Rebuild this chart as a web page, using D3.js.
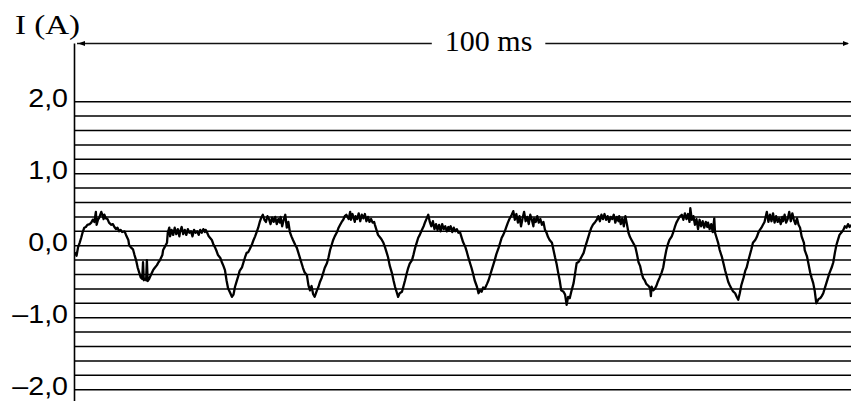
<!DOCTYPE html>
<html>
<head>
<meta charset="utf-8">
<script src="https://cdn.jsdelivr.net/npm/d3@7"></script>
<style>
  body { margin: 0; background: #fff; }
  svg { display: block; }
</style>
</head>
<body>
<svg id="chart"></svg>
<script>
const width = 851;
const height = 401;

// gridlines every 0,2 A
const gridValues = [-2.0, -1.8, -1.6, -1.4, -1.2, -1.0, -0.8, -0.6, -0.4, -0.2, 0.0,
                    0.2, 0.4, 0.6, 0.8, 1.0, 1.2, 1.4, 1.6, 1.8, 2.0];
const tickValues = [2, 1, 0, -1, -2];
const tickLabels = ["2,0", "1,0", "0,0", "–1,0", "–2,0"];
const yLabel = "I (A)";
const spanLabel = "100 ms";
const spanMs = 100;
const spanLabelAt = 53.5; // ms, where the label sits on the marker

// current trace: [time (ms), current (A)]
const trace = [
  [0.0, -0.09], [0.2, -0.14], [0.4, -0.02], [0.6, 0.04], [0.8, 0.11], [1.0, 0.19], [1.2, 0.25],
  [1.4, 0.26], [1.6, 0.29], [1.9, 0.30], [2.1, 0.32], [2.3, 0.36], [2.5, 0.33], [2.7, 0.47],
  [2.8, 0.29], [3.0, 0.37], [3.1, 0.38], [3.4, 0.47], [3.5, 0.44], [3.7, 0.37], [3.8, 0.43],
  [4.0, 0.38], [4.2, 0.37], [4.4, 0.32], [4.7, 0.29], [4.9, 0.30], [5.1, 0.26], [5.3, 0.23],
  [5.5, 0.25], [5.7, 0.20], [5.9, 0.22], [6.1, 0.19], [6.4, 0.20], [6.6, 0.15], [6.9, 0.08],
  [7.0, 0.01], [7.2, -0.02], [7.5, -0.05], [7.7, -0.13], [7.9, -0.20], [8.1, -0.30], [8.3, -0.37],
  [8.5, -0.44], [8.7, -0.46], [8.8, -0.23], [8.9, -0.48], [9.1, -0.46], [9.2, -0.48], [9.3, -0.20],
  [9.4, -0.49], [9.6, -0.46], [9.8, -0.41], [10.1, -0.34], [10.3, -0.31], [10.6, -0.27], [10.8, -0.23],
  [11.0, -0.20], [11.3, -0.13], [11.4, -0.06], [11.6, -0.02], [11.9, 0.04], [12.0, 0.18], [12.2, 0.25],
  [12.3, 0.13], [12.5, 0.22], [12.7, 0.15], [12.9, 0.25], [13.1, 0.16], [13.3, 0.23], [13.5, 0.13],
  [13.6, 0.20], [13.8, 0.26], [14.0, 0.16], [14.2, 0.22], [14.4, 0.15], [14.6, 0.23], [14.8, 0.18],
  [15.0, 0.20], [15.2, 0.13], [15.4, 0.22], [15.6, 0.18], [15.8, 0.20], [16.0, 0.15], [16.2, 0.22],
  [16.4, 0.18], [16.6, 0.23], [16.8, 0.19], [16.9, 0.22], [17.1, 0.18], [17.3, 0.13], [17.7, 0.08],
  [17.9, 0.02], [18.1, -0.02], [18.3, -0.07], [18.5, -0.13], [18.8, -0.17], [19.0, -0.23], [19.2, -0.28],
  [19.4, -0.34], [19.6, -0.48], [19.8, -0.59], [20.1, -0.66], [20.3, -0.71], [20.5, -0.68], [20.7, -0.57],
  [20.9, -0.50], [21.1, -0.43], [21.3, -0.35], [21.6, -0.30], [21.8, -0.23], [22.0, -0.16], [22.2, -0.10],
  [22.4, -0.09], [22.6, -0.05], [22.9, 0.02], [23.1, 0.08], [23.3, 0.13], [23.5, 0.19], [23.7, 0.25],
  [23.9, 0.33], [24.1, 0.39], [24.3, 0.43], [24.5, 0.36], [24.7, 0.33], [24.9, 0.41], [25.1, 0.37],
  [25.3, 0.30], [25.5, 0.39], [25.7, 0.33], [25.9, 0.40], [26.1, 0.30], [26.3, 0.37], [26.5, 0.32],
  [26.6, 0.40], [26.8, 0.27], [27.0, 0.36], [27.2, 0.43], [27.4, 0.25], [27.6, 0.33], [27.8, 0.19],
  [28.0, 0.13], [28.2, 0.08], [28.5, 0.01], [28.7, -0.03], [28.9, -0.10], [29.1, -0.17], [29.3, -0.24],
  [29.5, -0.31], [29.7, -0.37], [30.0, -0.41], [30.2, -0.55], [30.4, -0.62], [30.6, -0.56], [30.8, -0.67],
  [31.0, -0.71], [31.3, -0.62], [31.5, -0.57], [31.7, -0.50], [31.9, -0.45], [32.1, -0.38], [32.3, -0.31],
  [32.6, -0.24], [32.8, -0.16], [33.0, -0.06], [33.2, 0.01], [33.4, 0.08], [33.6, 0.13], [33.9, 0.19],
  [34.1, 0.25], [34.3, 0.29], [34.5, 0.33], [34.7, 0.36], [34.9, 0.41], [35.1, 0.43], [35.4, 0.37],
  [35.6, 0.47], [35.7, 0.36], [35.9, 0.44], [36.2, 0.33], [36.3, 0.41], [36.5, 0.37], [36.7, 0.45],
  [36.9, 0.34], [37.1, 0.43], [37.3, 0.38], [37.5, 0.44], [37.7, 0.34], [37.9, 0.40], [38.1, 0.33],
  [38.3, 0.37], [38.5, 0.32], [38.7, 0.33], [38.8, 0.29], [39.0, 0.22], [39.2, 0.15], [39.5, 0.11],
  [39.7, 0.08], [39.9, 0.04], [40.1, -0.02], [40.3, -0.09], [40.5, -0.16], [40.7, -0.27], [41.0, -0.38],
  [41.2, -0.48], [41.4, -0.57], [41.6, -0.64], [41.8, -0.71], [42.0, -0.66], [42.3, -0.64], [42.5, -0.56],
  [42.7, -0.48], [42.9, -0.39], [43.1, -0.31], [43.3, -0.25], [43.6, -0.20], [43.8, -0.12], [44.0, -0.03],
  [44.2, 0.04], [44.4, 0.11], [44.6, 0.15], [44.8, 0.20], [45.1, 0.27], [45.3, 0.33], [45.5, 0.38],
  [45.7, 0.43], [45.9, 0.33], [46.1, 0.27], [46.3, 0.34], [46.5, 0.23], [46.7, 0.30], [46.9, 0.22],
  [47.1, 0.29], [47.3, 0.20], [47.5, 0.30], [47.7, 0.23], [47.9, 0.27], [48.1, 0.20], [48.3, 0.26],
  [48.4, 0.22], [48.6, 0.27], [48.8, 0.19], [49.0, 0.25], [49.2, 0.20], [49.4, 0.23], [49.6, 0.18],
  [49.8, 0.19], [50.0, 0.12], [50.2, 0.05], [50.5, -0.02], [50.7, -0.09], [50.9, -0.17], [51.1, -0.24],
  [51.3, -0.31], [51.5, -0.39], [51.7, -0.48], [52.0, -0.57], [52.2, -0.66], [52.4, -0.62], [52.6, -0.64],
  [52.8, -0.58], [53.0, -0.60], [53.3, -0.53], [53.5, -0.48], [53.7, -0.41], [53.9, -0.34], [54.1, -0.27],
  [54.3, -0.20], [54.5, -0.12], [54.8, -0.03], [55.0, 0.04], [55.2, 0.11], [55.4, 0.15], [55.6, 0.20],
  [55.8, 0.26], [56.0, 0.32], [56.2, 0.37], [56.5, 0.43], [56.7, 0.48], [56.9, 0.36], [57.1, 0.44],
  [57.3, 0.32], [57.5, 0.41], [57.7, 0.27], [57.9, 0.38], [58.1, 0.47], [58.3, 0.34], [58.5, 0.40],
  [58.7, 0.30], [58.9, 0.43], [59.1, 0.36], [59.3, 0.27], [59.4, 0.38], [59.6, 0.33], [59.8, 0.41],
  [60.0, 0.32], [60.2, 0.37], [60.4, 0.29], [60.6, 0.33], [60.8, 0.22], [61.0, 0.18], [61.2, 0.12],
  [61.4, 0.08], [61.7, 0.04], [61.9, -0.06], [62.1, -0.16], [62.3, -0.25], [62.5, -0.37], [62.7, -0.48],
  [62.9, -0.62], [63.2, -0.64], [63.4, -0.68], [63.6, -0.82], [63.8, -0.71], [64.0, -0.73], [64.2, -0.64],
  [64.5, -0.52], [64.7, -0.38], [64.9, -0.24], [65.1, -0.23], [65.3, -0.20], [65.5, -0.16], [65.8, -0.10],
  [66.0, -0.02], [66.2, 0.05], [66.4, 0.12], [66.6, 0.19], [66.8, 0.25], [67.0, 0.29], [67.3, 0.33],
  [67.5, 0.36], [67.7, 0.41], [67.9, 0.34], [68.1, 0.43], [68.3, 0.37], [68.5, 0.44], [68.7, 0.36],
  [68.9, 0.41], [69.1, 0.33], [69.3, 0.40], [69.5, 0.37], [69.7, 0.43], [69.9, 0.32], [70.1, 0.40],
  [70.3, 0.34], [70.4, 0.41], [70.6, 0.30], [70.8, 0.38], [71.0, 0.27], [71.2, 0.41], [71.4, 0.30],
  [71.6, 0.18], [71.8, 0.12], [72.0, 0.08], [72.2, 0.04], [72.5, -0.02], [72.7, -0.12], [72.9, -0.23],
  [73.1, -0.28], [73.3, -0.38], [73.5, -0.45], [73.7, -0.48], [73.9, -0.53], [74.2, -0.56], [74.4, -0.59],
  [74.5, -0.70], [74.6, -0.57], [74.8, -0.62], [75.0, -0.60], [75.2, -0.56], [75.4, -0.50], [75.6, -0.45],
  [75.9, -0.37], [76.1, -0.30], [76.3, -0.17], [76.5, -0.06], [76.7, 0.02], [76.9, 0.08], [77.2, 0.13],
  [77.4, 0.19], [77.6, 0.26], [77.8, 0.32], [78.0, 0.36], [78.2, 0.40], [78.5, 0.43], [78.7, 0.36],
  [78.9, 0.45], [79.1, 0.37], [79.3, 0.44], [79.5, 0.33], [79.6, 0.52], [79.8, 0.36], [80.0, 0.41],
  [80.2, 0.29], [80.4, 0.37], [80.6, 0.23], [80.8, 0.36], [81.0, 0.27], [81.2, 0.34], [81.4, 0.25],
  [81.6, 0.33], [81.8, 0.26], [81.9, 0.32], [82.1, 0.23], [82.3, 0.30], [82.5, 0.19], [82.7, 0.38],
  [82.8, 0.18], [83.0, 0.11], [83.2, 0.04], [83.4, -0.06], [83.7, -0.16], [83.9, -0.25], [84.1, -0.34],
  [84.3, -0.42], [84.5, -0.50], [84.7, -0.55], [84.9, -0.59], [85.1, -0.63], [85.4, -0.66], [85.6, -0.71],
  [85.8, -0.75], [86.0, -0.66], [86.2, -0.55], [86.5, -0.44], [86.7, -0.35], [86.9, -0.30], [87.1, -0.21],
  [87.3, -0.13], [87.5, -0.05], [87.7, 0.04], [88.0, 0.08], [88.2, 0.12], [88.4, 0.18], [88.6, 0.22],
  [88.8, 0.25], [89.0, 0.29], [89.2, 0.33], [89.5, 0.47], [89.7, 0.33], [89.9, 0.43], [90.1, 0.34],
  [90.3, 0.45], [90.5, 0.32], [90.7, 0.41], [90.9, 0.33], [91.1, 0.38], [91.3, 0.30], [91.5, 0.40],
  [91.6, 0.34], [91.8, 0.43], [92.0, 0.32], [92.2, 0.37], [92.4, 0.47], [92.6, 0.34], [92.8, 0.45],
  [93.0, 0.36], [93.2, 0.30], [93.4, 0.38], [93.6, 0.29], [93.8, 0.25], [94.0, 0.13], [94.3, 0.04],
  [94.4, -0.06], [94.7, -0.15], [95.1, -0.37], [95.3, -0.45], [95.5, -0.52], [95.7, -0.63], [95.9, -0.80],
  [96.2, -0.74], [96.4, -0.73], [96.6, -0.70], [96.8, -0.66], [97.0, -0.59], [97.2, -0.52], [97.4, -0.45],
  [97.6, -0.38], [97.9, -0.30], [98.1, -0.23], [98.3, -0.10], [98.5, 0.01], [98.7, 0.08], [98.9, 0.15],
  [99.2, 0.19], [99.4, 0.22], [99.6, 0.27], [99.8, 0.25], [100.0, 0.30], [100.2, 0.26], [100.4, 0.29]
];

const svg = d3.select("#chart")
    .attr("width", width)
    .attr("height", height);

const x = d3.scaleLinear()
    .domain([0, spanMs])
    .range([75, 848]);

const y = d3.scaleLinear()
    .domain([-2, 2])
    .range([389.7, 101.7]);

const axisX = 74.5;
const axisTop = 43.5;

// horizontal grid lines
svg.append("g")
    .selectAll("line")
    .data(gridValues)
    .join("line")
    .attr("x1", axisX)
    .attr("x2", width)
    .attr("y1", d => y(d))
    .attr("y2", d => y(d))
    .attr("stroke", "#000")
    .attr("stroke-width", 1.5);

// vertical axis
svg.append("line")
    .attr("x1", axisX).attr("x2", axisX)
    .attr("y1", axisTop).attr("y2", height)
    .attr("stroke", "#000")
    .attr("stroke-width", 1.6);

// tick labels
svg.append("g")
    .selectAll("text")
    .data(tickValues)
    .join("text")
    .attr("transform", d => `translate(68,${y(d) + 5}) scale(1.1,1)`)
    .attr("text-anchor", "end")
    .style("font-family", "'Liberation Sans', Arial, Helvetica, sans-serif")
    .style("font-size", "26px")
    .attr("fill", "#000")
    .text((d, i) => tickLabels[i]);

// axis title
svg.append("text")
    .attr("transform", "translate(15,34) scale(1.18,1)")
    .style("font-family", "'Liberation Serif', 'Times New Roman', serif")
    .style("font-size", "28px")
    .attr("fill", "#000")
    .text(yLabel);

// 100 ms span marker
const spanText = svg.append("text")
    .attr("x", x(spanLabelAt))
    .attr("y", 51)
    .attr("text-anchor", "middle")
    .style("font-family", "'Liberation Serif', 'Times New Roman', serif")
    .style("font-size", "30px")
    .attr("fill", "#000")
    .text(spanLabel);

const tb = spanText.node().getBBox();
const gap = 13;

svg.append("line")
    .attr("x1", x(0) + 2).attr("x2", tb.x - gap)
    .attr("y1", axisTop).attr("y2", axisTop)
    .attr("stroke", "#111").attr("stroke-width", 1.6);

svg.append("line")
    .attr("x1", tb.x + tb.width + gap).attr("x2", x(spanMs))
    .attr("y1", axisTop).attr("y2", axisTop)
    .attr("stroke", "#111").attr("stroke-width", 1.6);

// little arrow heads
const xl = x(0) + 3;
const xr = x(spanMs) + 1;
svg.append("path")
    .attr("d", `M${xl},${axisTop} L${xl + 7},${axisTop - 2.5} L${xl + 7},${axisTop + 2.5} Z`)
    .attr("fill", "#000");
svg.append("path")
    .attr("d", `M${xr},${axisTop} L${xr - 6},${axisTop - 2.5} L${xr - 6},${axisTop + 2.5} Z`)
    .attr("fill", "#000");

// current trace
const line = d3.line()
    .x(d => x(d[0]))
    .y(d => y(d[1]));

svg.append("path")
    .datum(trace)
    .attr("fill", "none")
    .attr("stroke", "#000")
    .attr("stroke-width", 2.3)
    .attr("stroke-linejoin", "round")
    .attr("d", line);
</script>
</body>
</html>
